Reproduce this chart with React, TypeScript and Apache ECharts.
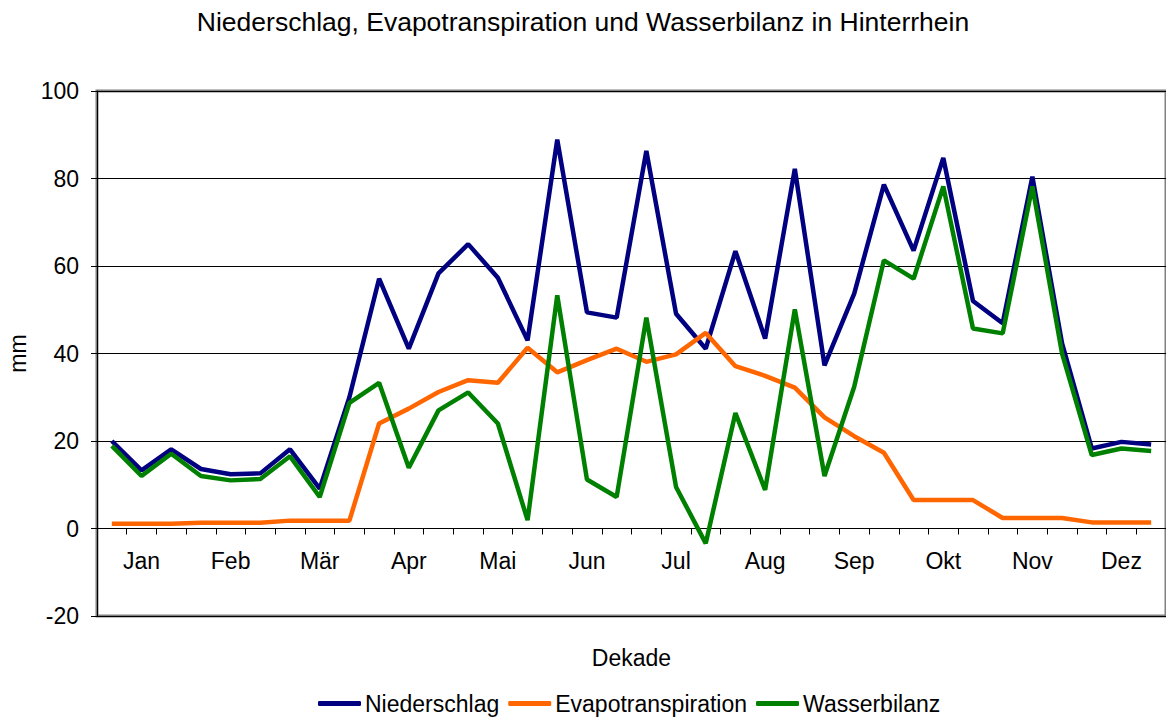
import React, { useEffect, useRef } from "react";
import * as echarts from "echarts";

const months = ["Jan", "Feb", "Mär", "Apr", "Mai", "Jun", "Jul", "Aug", "Sep", "Okt", "Nov", "Dez"];
const dekaden = months.flatMap((m) => [`${m} 1`, `${m} 2`, `${m} 3`]);

const niederschlag = [
  20.0, 13.3, 18.1, 13.6, 12.4, 12.6, 18.1, 9.1, 30.0, 57.1, 41.1, 58.3,
  65.0, 57.3, 43.0, 88.9, 49.4, 48.2, 86.3, 49.1, 41.1, 63.4, 43.4, 82.2,
  37.3, 53.7, 78.6, 63.5, 84.7, 52.0, 46.9, 80.4, 42.3, 18.3, 19.8, 19.2,
];
const evapotranspiration = [
  1.1, 1.1, 1.1, 1.3, 1.3, 1.3, 1.8, 1.8, 1.8, 24.0, 27.4, 31.2,
  33.9, 33.3, 41.3, 35.7, 38.5, 41.1, 38.1, 39.8, 44.7, 37.1, 34.9, 32.2,
  25.4, 21.1, 17.3, 6.5, 6.5, 6.5, 2.4, 2.4, 2.4, 1.4, 1.4, 1.4,
];
const wasserbilanz = [
  18.9, 12.0, 17.1, 12.0, 11.0, 11.3, 16.5, 7.2, 28.7, 33.3, 13.9, 27.0,
  31.1, 24.0, 1.9, 53.3, 11.2, 7.2, 48.2, 9.5, -3.4, 26.4, 8.8, 50.1,
  12.0, 32.4, 61.3, 57.1, 78.2, 45.7, 44.6, 78.2, 40.0, 16.8, 18.3, 17.7,
];

const FONT = "'Liberation Sans', Arial, sans-serif";

export default function App() {
  const ref = useRef<HTMLDivElement>(null);
  useEffect(() => {
    if (!ref.current) return;
    const chart = echarts.init(ref.current, null, { renderer: "svg" });
    chart.setOption({
      animation: false,
      backgroundColor: "#ffffff",
      textStyle: { fontFamily: FONT, color: "#000" },
      title: {
        text: "Niederschlag, Evapotranspiration und Wasserbilanz in Hinterrhein",
        left: "center",
        top: 3,
        textStyle: { fontFamily: FONT, fontSize: 26.5, fontWeight: "normal", color: "#000" },
      },
      legend: {
        left: 313,
        top: 687,
        itemWidth: 43,
        itemHeight: 5,
        itemGap: 9,
        icon: "roundRect",
        textStyle: { fontFamily: FONT, fontSize: 23, color: "#000", padding: [0, 0, 0, -1] },
        data: ["Niederschlag", "Evapotranspiration", "Wasserbilanz"],
      },
      grid: {
        left: 97,
        top: 91,
        right: 0,
        bottom: 101,
        outerBoundsMode: "none",
        containLabel: false,
        show: true,
        borderColor: "#808080",
        borderWidth: 3,
        backgroundColor: "transparent",
      },
      xAxis: {
        type: "category",
        data: dekaden,
        boundaryGap: true,
        position: "bottom",
        offset: -87.5,
        name: "Dekade",
        nameLocation: "middle",
        nameGap: 118,
        nameTextStyle: { fontFamily: FONT, fontSize: 23, color: "#000" },
        axisLine: { show: true, onZero: false, lineStyle: { color: "#000", width: 1 } },
        axisTick: { show: true, interval: 0, alignWithLabel: false, length: 6, lineStyle: { color: "#000" } },
        axisLabel: {
          interval: (i: number) => i % 3 === 1,
          formatter: (v: string) => v.split(" ")[0],
          fontFamily: FONT,
          fontSize: 23,
          color: "#000",
          margin: 21,
        },
        splitLine: { show: false },
      },
      yAxis: {
        type: "value",
        min: -20,
        max: 100,
        interval: 20,
        name: "mm",
        nameLocation: "middle",
        nameGap: 68,
        nameTextStyle: { fontFamily: FONT, fontSize: 23, color: "#000" },
        axisLine: { show: true, lineStyle: { color: "#000", width: 1 } },
        axisTick: { show: true, length: 6, lineStyle: { color: "#000" } },
        axisLabel: { fontFamily: FONT, fontSize: 23, color: "#000", margin: 18 },
        splitLine: { show: true, lineStyle: { color: "#000", width: 1 } },
      },
      series: [
        {
          name: "Niederschlag",
          type: "line",
          data: niederschlag,
          symbol: "none",
          itemStyle: { color: "#000080" },
          lineStyle: { color: "#000080", width: 4.5 },
        },
        {
          name: "Evapotranspiration",
          type: "line",
          data: evapotranspiration,
          symbol: "none",
          itemStyle: { color: "#FF6600" },
          lineStyle: { color: "#FF6600", width: 4.5 },
        },
        {
          name: "Wasserbilanz",
          type: "line",
          data: wasserbilanz,
          symbol: "none",
          itemStyle: { color: "#008000" },
          lineStyle: { color: "#008000", width: 4.5 },
        },
      ],
    });
    return () => chart.dispose();
  }, []);
  return <div ref={ref} style={{ width: 1166, height: 717, position: "absolute", left: 0, top: 0 }} />;
}
